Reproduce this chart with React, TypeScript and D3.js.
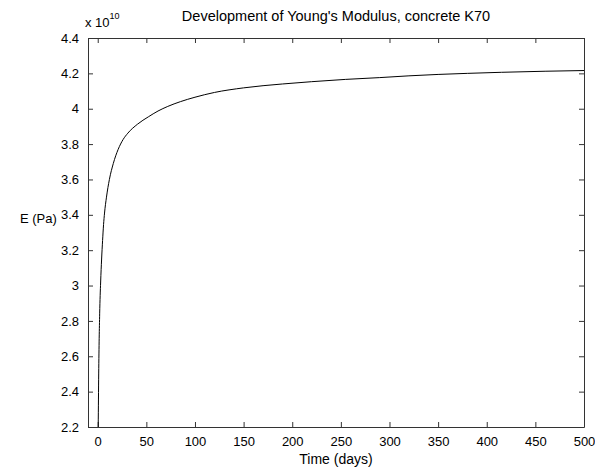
import React, { useEffect, useRef } from 'react';
import * as d3 from 'd3';

// time in days and Young's modulus (x 10^10 Pa)
const days = [0.5, 1, 2, 3, 4, 5, 6, 7, 9, 12, 16, 21, 26, 31, 41, 52, 62, 72, 85, 100, 120, 150, 190, 220, 255, 290, 320, 350, 380, 415, 460, 500];
const modulus = [2.2, 2.5, 2.84, 3.02, 3.15, 3.255, 3.345, 3.41, 3.5, 3.6, 3.69, 3.77, 3.825, 3.862, 3.913, 3.954, 3.987, 4.013, 4.04, 4.065, 4.092, 4.118, 4.14, 4.153, 4.166, 4.176, 4.186, 4.194, 4.2, 4.206, 4.212, 4.216];

const xTicks = [0, 50, 100, 150, 200, 250, 300, 350, 400, 450, 500];
const yTicks = [2.2, 2.4, 2.6, 2.8, 3, 3.2, 3.4, 3.6, 3.8, 4, 4.2, 4.4];

const title = "Development of Young's Modulus, concrete K70";
const xLabel = 'Time (days)';
const yLabel = 'E (Pa)';

export default function App() {
  const svgRef = useRef<SVGSVGElement>(null);

  useEffect(() => {
    const svg = d3.select(svgRef.current);
    svg.selectAll('*').remove();

    const width = 595;
    const height = 470;
    const margin = { top: 38, right: 11, bottom: 43, left: 88 };
    const font = 'Liberation Sans, Arial, sans-serif';

    const x = d3.scaleLinear().domain([-10, 500]).range([margin.left, width - margin.right]);
    const y = d3.scaleLinear().domain([2.2, 4.4]).range([height - margin.bottom, margin.top]);

    svg.append('rect').attr('width', width).attr('height', height).attr('fill', '#fff');

    const tl = 5;
    const fmt = d3.format('~g');

    // box axes with inward ticks on all four sides
    const bottom = svg.append('g')
      .attr('transform', `translate(0,${height - margin.bottom})`)
      .call(d3.axisBottom(x).tickValues(xTicks).tickSizeInner(-tl).tickSizeOuter(0).tickPadding(10).tickFormat(fmt));
    const top = svg.append('g')
      .attr('transform', `translate(0,${margin.top})`)
      .call(d3.axisTop(x).tickValues(xTicks).tickSizeInner(-tl).tickSizeOuter(0).tickFormat(() => ''));
    const left = svg.append('g')
      .attr('transform', `translate(${margin.left},0)`)
      .call(d3.axisLeft(y).tickValues(yTicks).tickSizeInner(-tl).tickSizeOuter(0).tickPadding(9).tickFormat(fmt));
    const right = svg.append('g')
      .attr('transform', `translate(${width - margin.right},0)`)
      .call(d3.axisRight(y).tickValues(yTicks).tickSizeInner(-tl).tickSizeOuter(0).tickFormat(() => ''));

    [bottom, top, left, right].forEach(g => {
      g.selectAll('path').attr('stroke', '#333');
      g.selectAll('line').attr('stroke', '#333');
      g.selectAll('text').attr('font-family', font).attr('font-size', 13).attr('fill', '#000');
    });

    const line = d3.line<number>()
      .x((d, i) => x(days[i]))
      .y(d => y(d))
      .curve(d3.curveMonotoneX);

    svg.append('path')
      .datum(modulus)
      .attr('d', line)
      .attr('fill', 'none')
      .attr('stroke', '#000')
      .attr('stroke-width', 1);

    // exponent label
    const exp = svg.append('text')
      .attr('x', margin.left - 3)
      .attr('y', 27)
      .attr('font-family', font)
      .attr('font-size', 13);
    exp.append('tspan').text('x 10');
    exp.append('tspan').attr('font-size', 9).attr('dy', -8).text('10');

    svg.append('text')
      .attr('x', (margin.left + width - margin.right) / 2)
      .attr('y', 21)
      .attr('text-anchor', 'middle')
      .attr('font-family', font)
      .attr('font-size', 14.5)
      .text(title);

    svg.append('text')
      .attr('x', (margin.left + width - margin.right) / 2)
      .attr('y', 464)
      .attr('text-anchor', 'middle')
      .attr('font-family', font)
      .attr('font-size', 14)
      .text(xLabel);

    svg.append('text')
      .attr('x', 20)
      .attr('y', 223)
      .attr('font-family', font)
      .attr('font-size', 13)
      .text(yLabel);
  }, []);

  return (
    <svg
      ref={svgRef}
      width={595}
      height={470}
      style={{ position: 'absolute', left: 0, top: 0 }}
    />
  );
}
